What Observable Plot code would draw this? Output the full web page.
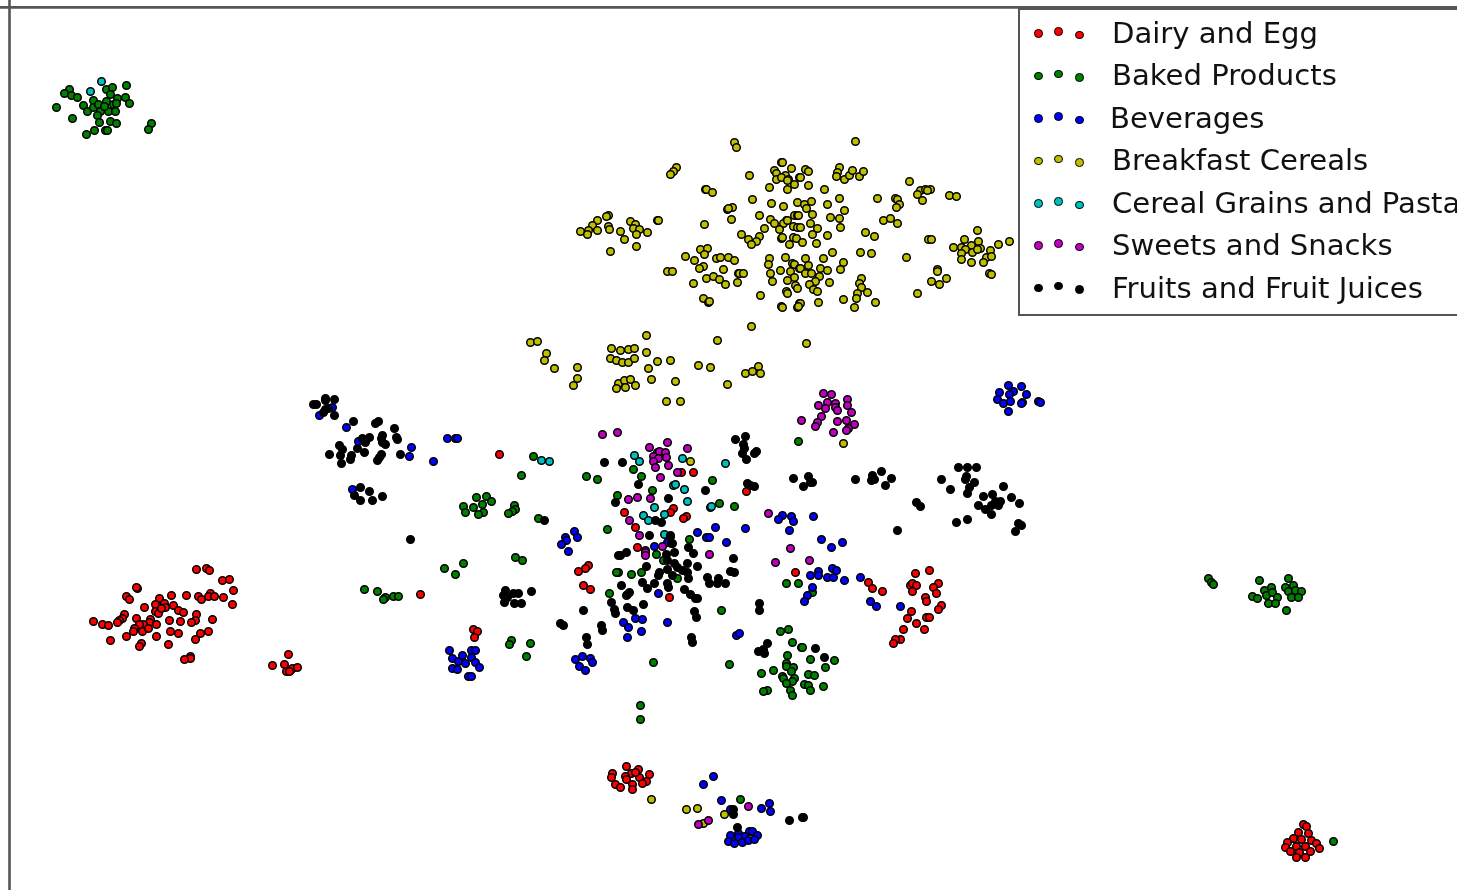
<!DOCTYPE html>
<html><head><meta charset="utf-8">
<script src="https://cdn.jsdelivr.net/npm/d3@7"></script>
<script src="https://cdn.jsdelivr.net/npm/@observablehq/plot@0.6"></script>
<style>
html,body{margin:0;padding:0;background:#fff;width:1457px;height:890px;overflow:hidden;position:relative}
#chart svg{display:block;max-width:none;filter:blur(.45px)}
#legend{position:absolute;left:1018px;top:8px;width:460px;height:304px;border:2px solid #555;box-sizing:content-box;background:#fff;font-family:"DejaVu Sans";font-size:29.1px;color:#111;filter:blur(.35px)}
#legend .lab{position:absolute;line-height:34px;white-space:nowrap}
#legend .dot{position:absolute;width:6.6px;height:6.6px;border:1.3px solid #000;border-radius:50%}
</style></head><body>
<div id="chart"></div>
<div id="legend"></div>
<script>
const categories=["Dairy and Egg","Baked Products","Beverages","Breakfast Cereals","Cereal Grains and Pasta","Sweets and Snacks","Fruits and Fruit Juices"];
const colors=["#ff0000","#007f00","#0000ff","#bfbf00","#00bfbf","#bf00bf","#000000"];
const dairy=[[196,569],[206,568],[209,570],[222,580],[229,579],[233,590],[137,588],[136,587],[126,596],[129,599],[171,595],[186,595],[198,596],[201,599],[210,593],[208,596],[214,596],[223,597],[232,604],[159,598],[155,604],[164,603],[144,607],[165,607],[173,605],[178,610],[183,612],[155,611],[158,613],[161,608],[196,614],[124,614],[122,618],[119,620],[117,622],[136,618],[169,620],[180,621],[195,620],[191,622],[212,619],[93,621],[102,624],[108,625],[150,619],[149,622],[143,624],[156,624],[139,624],[134,628],[133,631],[142,631],[148,628],[170,631],[178,633],[200,633],[208,631],[195,639],[126,636],[156,636],[110,640],[141,643],[139,646],[168,644],[190,656],[190,658],[184,659],
[288,654],[272,665],[284,664],[286,671],[290,670],[292,668],[297,667],[289,671],
[626,766],[612,773],[611,777],[615,784],[620,787],[631,773],[638,769],[649,774],[639,777],[646,781],[642,783],[625,776],[626,779],[632,784],[632,789],[635,772],
[1303,824],[1306,826],[1298,832],[1308,833],[1293,838],[1301,839],[1311,840],[1287,842],[1316,843],[1296,846],[1305,846],[1319,848],[1285,847],[1290,851],[1299,852],[1310,851],[1296,857],[1305,857],
[795,572],[868,582],[872,588],[882,591],[915,573],[929,570],[910,585],[912,583],[916,585],[912,591],[938,583],[933,587],[936,593],[925,597],[926,601],[941,605],[938,609],[911,611],[907,618],[926,617],[929,617],[916,623],[924,629],[903,629],[900,639],[895,639],[893,643],
[681,472],[693,472],[746,491],[624,512],[673,508],[670,512],[686,516],[683,518],[635,527],[637,547],[588,565],[585,568],[578,571],[583,585],[590,589],[669,597],[499,454],[420,594],[473,629],[477,631],[474,637]];
const baked=[[69,89],[64,93],[71,95],[77,97],[56,107],[72,118],[83,105],[87,111],[93,100],[93,107],[98,104],[100,111],[97,115],[99,122],[106,89],[112,87],[126,85],[110,94],[117,98],[125,97],[106,101],[113,104],[116,103],[129,103],[108,111],[115,111],[104,106],[110,121],[116,123],[94,130],[86,134],[105,130],[107,130],[151,123],[148,129],
[786,583],[798,583],[812,592],[780,631],[788,629],[792,642],[801,647],[802,647],[787,655],[810,659],[834,660],[825,667],[761,673],[773,670],[786,663],[786,666],[793,667],[791,671],[782,676],[783,678],[794,678],[792,681],[786,683],[808,674],[814,675],[804,684],[808,685],[823,686],[810,690],[790,690],[792,695],[767,690],[763,691],
[640,705],[640,719],[740,799],[1333,841],
[1208,578],[1211,582],[1213,584],[1259,580],[1288,578],[1252,596],[1257,598],[1264,590],[1271,587],[1266,595],[1272,592],[1277,597],[1268,603],[1275,603],[1286,610],[1285,587],[1288,591],[1293,585],[1295,590],[1301,591],[1291,597],[1298,597],
[463,506],[465,512],[476,497],[486,496],[491,501],[473,507],[482,504],[483,512],[478,514],[514,505],[515,509],[512,511],[508,513],[521,475],[533,456],[538,518],
[364,589],[377,591],[385,597],[383,599],[393,596],[398,596],[444,568],[463,563],[455,574],[515,557],[522,560],[511,640],[509,644],[530,643],[526,656],
[586,476],[597,479],[633,469],[641,476],[652,490],[617,495],[712,480],[719,503],[734,506],[607,529],[689,539],
[656,554],[663,560],[618,572],[616,572],[631,574],[641,572],[677,578],[609,593],[626,595],[721,610],[653,662],[729,664],[798,441]];
const beverages=[[332,407],[319,415],[346,427],[358,441],[411,447],[409,456],[433,461],[447,438],[455,438],[457,438],[352,489],
[574,531],[577,537],[565,537],[566,540],[561,544],[568,551],
[449,650],[452,658],[458,661],[462,655],[465,663],[471,657],[471,650],[475,650],[475,662],[479,667],[452,668],[457,669],[468,676],[471,676],
[575,659],[582,656],[590,658],[592,662],[579,666],[585,670],
[697,532],[715,527],[745,528],[706,537],[709,537],[726,542],[654,546],[667,542],
[658,593],[623,622],[635,618],[642,619],[628,627],[641,631],[627,637],[667,622],[736,635],[739,633],
[810,575],[818,571],[818,575],[832,568],[836,570],[827,577],[833,577],[844,580],[860,577],[812,587],[807,595],[804,601],[870,601],[876,606],[900,606],
[782,515],[778,519],[791,516],[793,521],[789,530],[813,516],[821,539],[831,547],[842,542],
[1008,385],[1021,386],[999,392],[1013,391],[1009,394],[1026,394],[997,399],[1003,403],[1010,401],[1022,402],[1021,403],[1038,401],[1040,402],[1008,411],
[713,776],[703,784],[721,800],[730,809],[761,808],[769,803],[770,811],
[730,835],[738,833],[749,831],[752,831],[757,835],[744,836],[738,837],[728,841],[734,843],[742,842],[748,840],[754,839]];
const cereals=[[734,142],[736,147],[676,167],[673,171],[670,174],[749,175],[781,162],[774,170],[791,168],[776,173],[785,175],[776,179],[781,177],[788,179],[794,184],[799,177],[769,187],[787,189],[705,189],[706,189],[712,192],[752,199],[771,203],[783,206],[797,202],[727,209],[732,207],[728,208],[731,219],[759,215],[794,215],[797,215],[770,219],[786,220],[774,223],[783,223],[779,229],[764,228],[793,226],[797,227],[704,224],[741,234],[759,236],[748,239],[756,241],[751,244],[781,238],[793,237],[796,238],[789,244],
[608,215],[606,216],[597,220],[592,225],[588,230],[580,231],[587,234],[597,230],[608,226],[609,229],[630,221],[635,224],[633,228],[639,229],[620,231],[624,239],[636,234],[647,232],[657,220],[658,220],[610,251],[636,246],
[700,249],[707,248],[704,254],[685,256],[694,260],[716,258],[720,257],[728,257],[734,260],[703,266],[699,268],[723,269],[667,271],[672,271],[706,278],[713,276],[719,279],[725,284],[693,283],[738,273],[739,273],[743,273],[737,282],[703,298],[708,302],[709,301],[760,295],
[769,258],[785,257],[768,264],[792,263],[794,264],[780,270],[770,273],[790,271],[799,268],[794,277],[772,281],[787,280],[795,285],[797,288],[786,291],[787,293],[781,306],[799,303],[797,307],
[855,141],[782,162],[805,169],[808,171],[800,177],[787,180],[808,185],[824,189],[839,167],[837,172],[836,176],[844,179],[849,175],[852,170],[859,176],[863,171],[909,181],[920,190],[917,194],[925,189],[930,189],[927,190],[922,200],[949,195],[956,196],[839,198],[877,198],[895,198],[897,199],[899,204],[896,207],
[804,204],[806,208],[811,201],[827,204],[844,210],[812,214],[798,215],[830,217],[839,218],[883,220],[890,218],[897,223],[787,220],[810,223],[817,228],[800,227],[840,227],[812,234],[827,235],[865,232],[874,236],[782,237],[802,242],[816,243],[928,239],[931,239],
[977,230],[964,239],[978,241],[971,245],[961,247],[953,247],[980,248],[965,249],[961,253],[972,252],[977,249],[998,244],[1009,241],[990,250],[986,257],[991,256],[961,259],[971,262],[983,262],[989,273],[991,274],
[832,252],[860,252],[871,253],[906,257],[805,258],[823,258],[843,262],[840,269],[800,268],[808,265],[820,268],[827,270],[805,273],[811,273],[819,276],[815,281],[809,284],[829,282],[813,289],[817,291],[861,278],[859,283],[861,287],[867,292],[857,293],[856,298],[854,307],[875,302],[843,299],[818,302],[800,303],[798,306],[782,307],
[937,269],[937,271],[946,278],[931,281],[939,284],[917,293],
[530,342],[537,341],[546,353],[544,360],[554,368],[577,367],[577,378],[573,385],[611,348],[620,350],[628,349],[634,348],[646,335],[610,358],[616,360],[622,362],[628,362],[634,358],[618,383],[624,380],[630,379],[625,387],[635,385],[616,388],[646,352],[648,368],[657,361],[670,360],[651,379],[675,381],[666,401],[680,401],[698,365],[710,367],[727,384],[745,373],[752,371],[758,366],[760,373],[751,326],[717,340],[806,343],
[843,443],[690,461],[651,799],[686,809],[697,808],[724,814],[703,823]];
const grains=[[101,81],[90,91],[541,460],[549,461],[634,455],[639,461],[682,458],[725,463],[673,485],[675,484],[684,489],[687,501],[654,507],[643,515],[648,520],[664,514],[710,507],[711,506],[664,534]];
const sweets=[[602,434],[617,432],[649,447],[667,442],[687,448],[657,452],[659,451],[665,452],[653,456],[658,458],[666,457],[653,461],[655,467],[668,465],[677,472],[660,477],[628,499],[637,497],[650,498],[629,520],[639,535],[662,546],[645,550],[645,552],[645,555],[709,554],[775,562],[790,548],[809,560],
[823,393],[831,394],[847,399],[818,405],[827,402],[825,408],[835,403],[835,407],[837,410],[847,405],[851,412],[821,416],[801,420],[817,422],[815,426],[837,421],[846,420],[854,424],[848,428],[846,430],[833,432],[768,513],[748,806],[708,820],[698,824]];
const fruits=[[313,404],[316,404],[325,398],[325,400],[334,399],[325,409],[328,408],[323,412],[334,415],[353,421],[375,423],[378,421],[394,428],[382,435],[381,438],[396,437],[397,439],[369,437],[362,438],[365,442],[357,448],[364,452],[382,442],[385,444],[339,445],[342,449],[329,454],[340,455],[351,455],[350,459],[341,463],[381,454],[377,460],[379,457],[400,454],
[360,487],[369,491],[354,495],[360,500],[372,500],[382,496],[410,539],
[505,590],[513,593],[518,593],[503,595],[507,597],[504,602],[514,603],[521,603],[531,591],
[604,462],[622,462],[638,484],[615,502],[544,520],[668,498],[705,490],[655,520],[661,522],[649,535],[670,535],[672,543],
[735,439],[745,436],[743,444],[744,448],[742,453],[746,459],[756,451],[754,453],[747,483],[750,485],[754,486],
[670,536],[671,543],[688,547],[693,553],[674,552],[666,554],[626,552],[618,555],[620,555],[667,560],[674,563],[677,567],[682,570],[687,563],[697,566],[687,572],[646,566],[667,569],[659,572],[658,575],[672,575],[688,578],[733,558],[730,571],[734,572],[707,577],[718,578],[709,583],[717,583],[725,583],[642,582],[654,583],[667,583],[668,587],[647,588],[621,585],[629,592],[627,594],[684,589],[690,594],[695,598],[697,598],[611,602],[643,604],[583,610],[614,609],[615,613],[627,607],[633,610],[694,611],[696,617],[759,603],[759,610],[560,623],[563,625],[601,625],[602,630],[586,637],[587,644],[691,637],[692,642],[767,643],[763,649],[758,651],[764,653],[815,648],[824,657],
[793,478],[808,476],[810,482],[803,486],[812,482],[855,479],[872,475],[881,471],[874,479],[871,480],[891,478],[885,485],[941,479],[958,467],[967,467],[976,467],[966,476],[965,479],[950,489],[974,482],[969,487],[967,493],[983,496],[992,494],[1003,486],[1011,497],[1000,501],[995,501],[978,505],[985,509],[991,505],[998,505],[991,514],[1019,503],[916,502],[920,506],[897,530],[956,522],[967,519],[1018,523],[1021,525],[1015,531],
[733,809],[733,814],[737,827],[789,820],[802,817],[803,817]];
const seriesPoints=[dairy,baked,beverages,cereals,grains,sweets,fruits];
const points=seriesPoints.flatMap((s,i)=>s.map(([px,py])=>({px,py,group:categories[i]})));
const plot=Plot.plot({width:1457,height:890,margin:0,
  x:{domain:[0,1457],range:[0,1457],axis:null},
  y:{domain:[0,890],range:[0,890],axis:null},
  color:{domain:categories,range:colors},
  marks:[
    Plot.dot(points,{x:"px",y:"py",fill:"group",stroke:"#000",strokeWidth:1.5,r:3.8}),
    Plot.ruleX([9],{stroke:"#555",strokeWidth:2.6}),
    Plot.ruleY([6.8],{stroke:"#555",strokeWidth:2.8})
  ]});
plot.style.background="transparent";
document.getElementById("chart").append(plot);
const legend=document.getElementById("legend");
const labelY=[32.5,74.5,117.5,159.5,202.5,244.5,287.5];
const dotX=[1039,1059,1080], dotY=[34,32,35.5];
const rowStep=[0,42.4,84.8,127.2,169.6,212,254.4];
const labLeft=[1112,1112,1110,1112,1112,1112,1112];
const boxLeft=1020, boxTop=10;
categories.forEach((c,i)=>{
  const l=document.createElement("div");l.className="lab";l.textContent=c;
  l.style.left=(labLeft[i]-boxLeft)+"px";l.style.top=(labelY[i]-boxTop-17)+"px";legend.append(l);
  dotX.forEach((x,k)=>{const d=document.createElement("div");d.className="dot";d.style.background=colors[i];
    d.style.left=(x-boxLeft-4.6)+"px";d.style.top=(dotY[k]+rowStep[i]-boxTop-4.6)+"px";legend.append(d);});
});
</script></body></html>
